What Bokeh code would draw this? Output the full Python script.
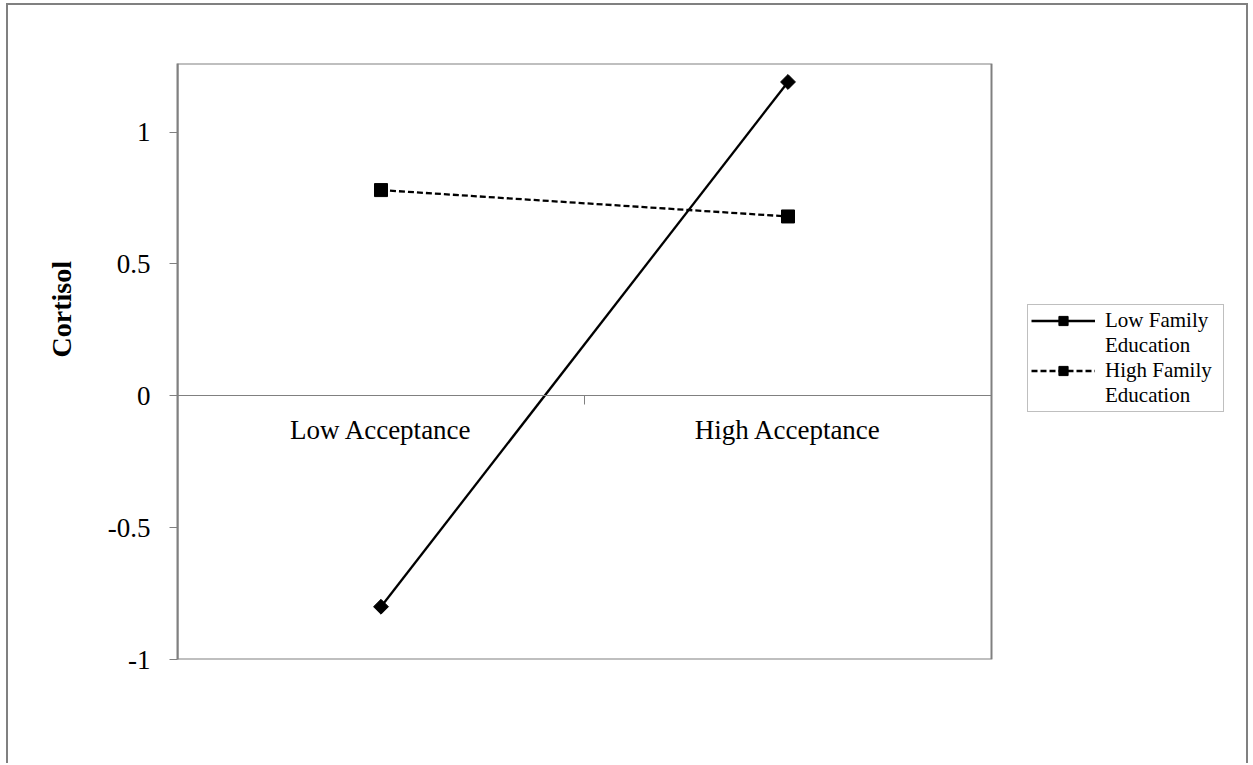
import math

from bokeh.embed import file_html
from bokeh.models import (BoxAnnotation, ColumnDataSource, FixedTicker, Legend,
                          LegendItem, LinearAxis, Range1d, Title)
from bokeh.plotting import figure
from bokeh.resources import INLINE

# --- data -------------------------------------------------------------
categories = ["Low Acceptance", "High Acceptance"]
low_family_education = [-0.8, 1.19]
high_family_education = [0.78, 0.68]
series_names = [("Low Family", "Education"), ("High Family", "Education")]
y_ticks = [-1, -0.5, 0, 0.5, 1]
y_tick_labels = ["-1", "-0.5", "0", "0.5", "1"]
y_title = "Cortisol"
y_min, y_max = -1, 1.26

# category i sits in the middle of slot [i, i+1]
x_pos = [i + 0.5 for i in range(len(categories))]
n_cat = len(categories)

FONT = "Liberation Serif"
GREY = "#808080"

# canvas geometry: the plot box is 814 px wide, the legend lives to its right
CANVAS_W, CANVAS_H = 1242, 760
LEFT, TOP, BOTTOM = 169, 58, 106
BOX_W = 814
frame_w = CANVAS_W - LEFT

p = figure(
    width=CANVAS_W, height=CANVAS_H,
    x_range=Range1d(0, n_cat * frame_w / BOX_W),
    y_range=Range1d(y_min, y_max),
    x_axis_type=None, y_axis_type=None,
    output_backend="svg", toolbar_location=None,
    min_border_left=LEFT, min_border_right=0,
    min_border_top=TOP, min_border_bottom=BOTTOM,
)
p.margin = (3, 0, 0, 6)
p.styles = {
    "border-left": f"2px solid {GREY}",
    "border-top": f"2px solid {GREY}",
    "border-right": f"2px solid {GREY}",
}
p.grid.visible = False
p.outline_line_color = None
p.background_fill_color = "white"
p.border_fill_color = "white"

# plot-area box
p.add_layout(BoxAnnotation(left=0, right=n_cat, bottom=y_min, top=y_max,
                           fill_alpha=0, line_color=GREY, line_alpha=1,
                           line_width=2))

# y axis on the left edge of the plot area
yax = LinearAxis(ticker=FixedTicker(ticks=y_ticks))
yax.major_label_overrides = {t: s for t, s in zip(y_ticks, y_tick_labels)}
yax.axis_line_color = GREY
yax.axis_line_width = 2
yax.major_tick_line_color = GREY
yax.major_tick_out = 8
yax.major_tick_in = 0
yax.minor_tick_line_color = None
yax.major_label_text_font = FONT
yax.major_label_text_font_size = "27px"
yax.major_label_text_color = "black"
yax.major_label_standoff = 19
p.add_layout(yax, "left")

# rotated y title, left of the tick labels, a little above centre
p.add_layout(Title(text=y_title, align="left", offset=302, standoff=55,
                   text_font=FONT, text_font_size="28px",
                   text_font_style="bold", text_color="black"), "left")

# category axis running along y = 0, limited to the plot box
xax = LinearAxis(ticker=FixedTicker(ticks=x_pos,
                                    minor_ticks=list(range(n_cat + 1))),
                 fixed_location=0, bounds=(0, n_cat))
xax.major_label_overrides = {x: c for x, c in zip(x_pos, categories)}
xax.axis_line_color = GREY
xax.axis_line_width = 1
xax.major_tick_line_color = None
xax.major_tick_out = 0
xax.major_tick_in = 0
xax.minor_tick_line_color = GREY
xax.minor_tick_out = 9
xax.minor_tick_in = 0
xax.major_label_text_font = FONT
xax.major_label_text_font_size = "27px"
xax.major_label_text_color = "black"
xax.major_label_standoff = 10
p.add_layout(xax, "below")

# series
src_low = ColumnDataSource(dict(x=x_pos, y=low_family_education))
src_high = ColumnDataSource(dict(x=x_pos, y=high_family_education))

l1 = p.line("x", "y", source=src_low, line_color="black", line_width=2.3)
m1 = p.scatter("x", "y", source=src_low, marker="square", size=10.5,
               angle=math.pi / 4, fill_color="black", line_color="black")
l2 = p.line("x", "y", source=src_high, line_color="black", line_width=2.3,
            line_dash="6 3")
m2 = p.scatter("x", "y", source=src_high, marker="square", size=13,
               fill_color="black", line_color="black")

# two-line legend entries: key on the first line, continuation below it
items = []
for (first, second), rends in zip(series_names, [[l1, m1], [l2, m2]]):
    items.append(LegendItem(label=first, renderers=rends))
    items.append(LegendItem(label=second, renderers=[]))

legend = Legend(
    items=items,
    location=(850, 247),
    label_text_font=FONT,
    label_text_font_size="21px",
    label_text_line_height=0.92,
    label_text_color="black",
    glyph_width=64,
    glyph_height=23,
    label_height=23,
    label_standoff=10,
    label_width=115,
    padding=3,
    margin=0,
    spacing=0,
    border_line_color=GREY,
    border_line_width=1,
    background_fill_color="white",
)
p.add_layout(legend, "center")

open("out.html", "w").write(file_html(p, INLINE))
